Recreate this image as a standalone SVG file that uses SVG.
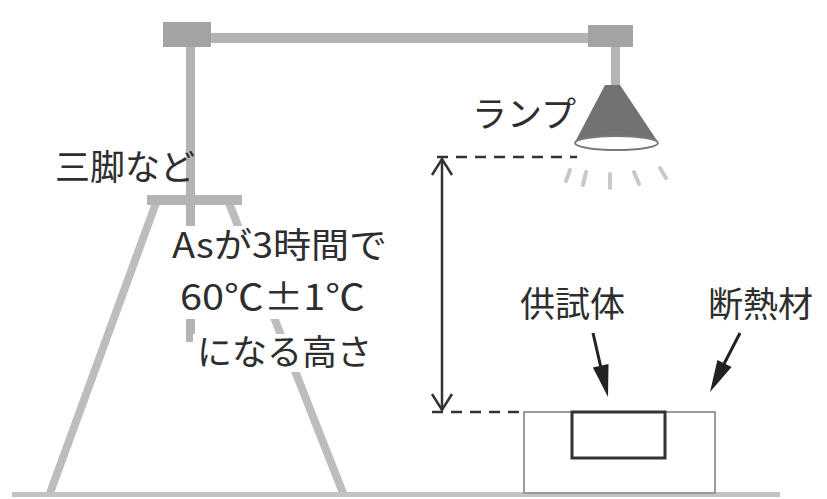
<svg xmlns="http://www.w3.org/2000/svg" width="827" height="499" viewBox="0 0 827 499">
  <defs>
    <style>
      .frame { fill: #b4b4b4; }
      .block { fill: #a3a3a3; }
      .leg { stroke: #bdbdbd; stroke-width: 8; stroke-linecap: butt; fill: none; }
      .lbl { font-family: "Noto Sans CJK JP", "Noto Sans", sans-serif; font-size: 35px; fill: #2e2e2e; }
      .dash { stroke: #333; stroke-width: 2.5; stroke-dasharray: 11 8; fill: none; }
      .dim { stroke: #333; stroke-width: 2.5; fill: none; }
      .ray { stroke: #c8c8c8; stroke-width: 4; stroke-linecap: round; }
      .ptr { stroke: #222; stroke-width: 3; fill: none; }
      .tip { fill: #222; }
      .mask { fill: #ffffff; }
    </style>
  </defs>

  <rect width="827" height="499" fill="#ffffff"/>

  <!-- overhead frame -->
  <g id="frame">
    <rect class="frame" x="200" y="33" width="400" height="10"/>
    <rect class="block" x="163" y="22" width="48" height="25"/>
    <rect class="block" x="588" y="25" width="45" height="22"/>
    <rect class="frame" x="186" y="47" width="9" height="295"/>
    <rect class="frame" x="611" y="47" width="9" height="40"/>
  </g>

  <!-- tripod -->
  <g id="tripod">
    <line class="leg" x1="156" y1="203" x2="50" y2="493"/>
    <line class="leg" x1="229" y1="203" x2="343" y2="493"/>
    <rect class="frame" x="147" y="195" width="95" height="10"/>
  </g>

  <!-- ground -->
  <g id="ground">
    <rect x="12" y="492" width="768" height="5" fill="#c2c2c2"/>
  </g>

  <!-- lamp -->
  <g id="lamp">
    <path d="M605,85 L620,85 L658,142 L575,142 Z" fill="#727272"/>
    <ellipse cx="616.5" cy="143" rx="41.5" ry="7" fill="#ffffff" stroke="#7a7a7a" stroke-width="2"/>
    <line class="ray" x1="570" y1="170" x2="566" y2="181"/>
    <line class="ray" x1="586" y1="172" x2="583" y2="185"/>
    <line class="ray" x1="610" y1="174" x2="610" y2="188"/>
    <line class="ray" x1="634" y1="172" x2="639" y2="184"/>
    <line class="ray" x1="660" y1="168" x2="666" y2="178"/>
  </g>

  <!-- test box: insulation and specimen -->
  <g id="insulation">
    <rect x="524" y="412" width="191" height="81" fill="#ffffff" stroke="#9a9a9a" stroke-width="2"/>
  </g>
  <g id="specimen">
    <rect x="572" y="412" width="93" height="46" fill="#ffffff" stroke="#333" stroke-width="3"/>
  </g>

  <!-- labels -->
  <g id="label-lamp"><text class="lbl" x="472" y="127" font-size="31">ランプ</text></g>
  <g id="label-tripod"><text class="lbl" x="55" y="180">三脚など</text></g>
  <g id="label-height">
    <rect class="mask" x="168" y="226" width="224" height="93"/>
    <rect class="mask" x="193" y="334" width="183" height="38"/>
    <text class="lbl" x="172" y="258" textLength="215" lengthAdjust="spacingAndGlyphs">Asが3時間で</text>
    <text class="lbl" x="180" y="310" textLength="185" lengthAdjust="spacingAndGlyphs">60℃±1℃</text>
    <text class="lbl" x="197" y="365" textLength="175" lengthAdjust="spacingAndGlyphs">になる高さ</text>
  </g>
  <g id="label-specimen"><text class="lbl" x="520" y="317">供試体</text></g>
  <g id="label-insulation"><text class="lbl" x="708" y="317">断熱材</text></g>

  <!-- connectors -->
  <g id="connectors">
    <line class="dash" x1="437" y1="157" x2="577" y2="157"/>
    <line class="dash" x1="432" y1="412" x2="524" y2="412"/>
    <line class="dim" x1="442" y1="159" x2="442" y2="410"/>
    <polyline class="dim" points="432,175 442,159 452,175"/>
    <polyline class="dim" points="432,394 442,410 452,394"/>
    <line class="ptr" x1="593" y1="333" x2="601" y2="368"/>
    <polygon class="tip" points="608,397 608.5,364 592.9,367.6"/>
    <line class="ptr" x1="740" y1="333" x2="724" y2="364"/>
    <polygon class="tip" points="710,392 731.6,367.1 717.4,359.9"/>
  </g>
</svg>
